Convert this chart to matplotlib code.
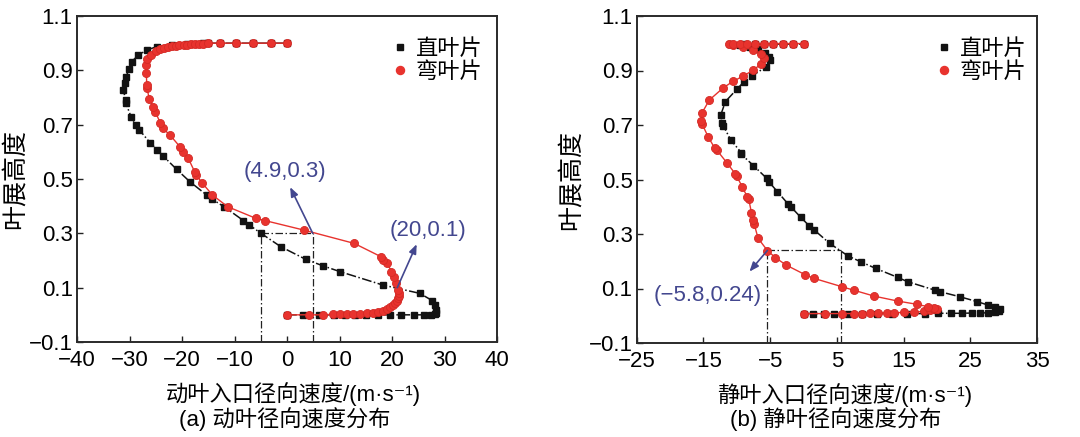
import matplotlib
matplotlib.use('Agg')
import matplotlib.pyplot as plt
from matplotlib.lines import Line2D

plt.rcParams['font.family'] = ['Liberation Sans', 'Noto Sans CJK SC', 'DejaVu Sans']
plt.rcParams['axes.unicode_minus'] = True

# ---------------- data: (a) rotor inlet radial velocity ----------------
a_straight_x = [0, 3, 6, 9, 11, 13, 15, 17.3, 19.7, 21.8, 24.1, 26.0, 27.5, 28.1, 28.4, 28.3,
                28.1, 27.7, 25.3, 18.2, 10.1, 6.9, 3.6, -1.2, -4.95, -7.2, -8.3, -12.0, -14.2,
                -15.3, -18.5, -21.0, -23.6, -24.7, -26.1, -28.1, -28.8, -29.7, -30.7, -30.7,
                -31.2, -30.9, -30.7, -30.1, -29.6, -28.3, -26.7, -24.8, -22.0, -19.0, -16.0,
                -15.0, -12.8, -9.7, -6.4, -3.1, 0]
a_straight_y = [0.0, 0.0, 0.0, 0.0, 0.0, 0.0, 0.0, 0.0, 0.0, 0.0, 0.0, 0.0, 0.0, 0.003, 0.008, 0.018,
                0.036, 0.052, 0.079, 0.110, 0.159, 0.180, 0.204, 0.251, 0.300, 0.331, 0.347, 0.398, 0.425,
                0.441, 0.490, 0.535, 0.585, 0.607, 0.634, 0.680, 0.699, 0.729, 0.779, 0.791,
                0.828, 0.852, 0.874, 0.904, 0.932, 0.956, 0.975, 0.987, 0.994, 0.998, 1.0,
                1.0, 1.0, 1.0, 1.0, 1.0, 1.0]

a_curved_x = [0, 4.1, 6.9, 8.8, 10.0, 11.4, 12.6, 13.9, 15.2, 16.4, 17.4, 18.3, 19.0, 19.6, 20.2,
              20.6, 20.9, 21.1, 21.3, 21.3, 21.2, 20.8, 20.4, 19.9, 19.1, 18.3, 17.9, 12.8, 3.2,
              -4.2, -5.9, -11.3, -14.2, -16.1, -17.3, -17.6, -18.8, -19.9, -20.4, -22.3, -23.7,
              -24.1, -25.1, -25.5, -26.2, -26.7, -26.7, -26.8, -26.8, -26.6, -26.0, -25.0, -24.2,
              -23.5, -22.7, -22.0, -21.2, -20.5, -19.7, -19.0, -18.2, -17.5, -16.7, -16.0, -15.0,
              -12.8, -9.7, -6.4, -3.1, 0]
a_curved_y = [0.0, 0.0, 0.0, 0.002, 0.002, 0.003, 0.003, 0.004, 0.006, 0.008, 0.011, 0.015, 0.021,
              0.028, 0.035, 0.042, 0.051, 0.061, 0.070, 0.079, 0.092, 0.116, 0.138, 0.159, 0.190,
              0.202, 0.214, 0.263, 0.312, 0.347, 0.355, 0.398, 0.441, 0.484, 0.515, 0.527, 0.576,
              0.601, 0.619, 0.662, 0.687, 0.705, 0.748, 0.766, 0.794, 0.835, 0.845, 0.889, 0.920,
              0.940, 0.958, 0.972, 0.978, 0.982, 0.986, 0.988, 0.990, 0.992, 0.994, 0.995, 0.996,
              0.997, 0.998, 0.998, 1.0, 1.0, 1.0, 1.0, 1.0, 1.0]

# ---------------- data: (b) stator inlet radial velocity ----------------
b_straight_x = [0.1, 1.5, 3.0, 4.5, 6.6, 8.7, 11.0, 13.2, 15.5, 18.2, 20.2, 22.1, 23.7, 25.2, 26.5,
                27.7, 28.7, 29.3, 29.4, 28.7, 27.7, 26.0, 23.4, 20.5, 19.7, 15.6, 14.1, 10.8, 8.6,
                6.7, 3.9, 1.6, 0.9, -0.4, -1.9, -2.3, -3.9, -5.2, -5.5, -7.5, -9.3, -9.3, -10.9,
                -12.0, -12.2, -12.4, -11.7, -10.0, -8.9, -7.7, -5.6, -5.0, -5.2, -5.8, -6.8, -8.0,
                -9.5, -11.0, -9.0, -7.3, -5.9, -4.5, -3.0, -1.5, 0.1]
b_straight_y = [0.008, 0.008, 0.008, 0.008, 0.008, 0.008, 0.008, 0.008, 0.008, 0.008, 0.009, 0.009,
                0.009, 0.010, 0.010, 0.011, 0.013, 0.018, 0.023, 0.031, 0.039, 0.052, 0.070, 0.088,
                0.094, 0.125, 0.141, 0.174, 0.198, 0.219, 0.266, 0.315, 0.329, 0.361, 0.400, 0.410,
                0.455, 0.492, 0.504, 0.551, 0.592, 0.598, 0.645, 0.696, 0.709, 0.737, 0.786, 0.831,
                0.859, 0.880, 0.914, 0.938, 0.950, 0.965, 0.978, 0.988, 0.994, 0.996, 0.997, 0.997,
                0.997, 0.997, 0.997, 0.997, 0.997]

b_curved_x = [0.1, 3.2, 5.7, 7.5, 8.7, 10.0, 11.2, 12.5, 13.5, 15.0, 16.5, 18.0, 19.0, 19.6, 20.0,
              19.5, 18.7, 17.0, 14.1, 10.6, 7.5, 5.7, 1.6, 0.3, -2.6, -4.2, -5.4, -6.8, -7.4, -7.5,
              -7.8, -8.2, -8.4, -9.2, -10.0, -10.2, -11.5, -13.0, -13.3, -14.3, -15.2, -15.3,
              -15.2, -14.1, -12.0, -10.5, -9.0, -7.5, -6.3, -5.9, -6.3, -7.5, -9.0, -10.5, -11.2,
              -10.5, -9.5, -8.5, -7.3, -5.9, -4.5, -3.0, -1.5, 0.1]
b_curved_y = [0.008, 0.008, 0.008, 0.008, 0.008, 0.009, 0.010, 0.010, 0.011, 0.012, 0.013, 0.016,
              0.020, 0.024, 0.025, 0.027, 0.033, 0.042, 0.054, 0.072, 0.094, 0.107, 0.137, 0.150,
              0.186, 0.213, 0.239, 0.284, 0.337, 0.351, 0.378, 0.427, 0.435, 0.474, 0.512, 0.520,
              0.562, 0.608, 0.615, 0.657, 0.704, 0.716, 0.745, 0.792, 0.837, 0.861, 0.880, 0.902,
              0.925, 0.945, 0.960, 0.975, 0.985, 0.993, 0.997, 0.998, 0.999, 0.999, 0.999, 0.999,
              0.999, 0.999, 0.999, 0.999]

# annotations / guide lines
a_guide_x = [-5.0, 4.9]
a_guide_y = 0.3
b_guide_x = [-5.4, 5.6]
b_guide_y = 0.24

labels = ['直叶片', '弯叶片']
a_xticks = [-40, -30, -20, -10, 0, 10, 20, 30, 40]
b_xticks = [-25, -15, -5, 5, 15, 25, 35]
yticks = [-0.1, 0.1, 0.3, 0.5, 0.7, 0.9, 1.1]

BLACK = '#121212'
RED = '#e8332e'
NAVY = '#43478f'
FS = 16
LFS = 16

fig = plt.figure(figsize=(10.8, 4.37), dpi=100)
ax1 = fig.add_axes([77 / 1080, 95 / 437, 420 / 1080, 326 / 437])
ax2 = fig.add_axes([636.7 / 1080, 94 / 437, 400.3 / 1080, 327 / 437])


def style(ax, xticks, xlim):
    ax.set_xlim(xlim)
    ax.set_ylim(-0.1, 1.1)
    ax.set_xticks(xticks)
    ax.set_yticks(yticks)
    ax.set_yticklabels([f'{v:.1f}'.replace('-', '\u2212') for v in yticks])
    ax.tick_params(direction='in', length=4.5, width=1, labelsize=FS, top=False, right=False,
                   color='#222222')
    ax.tick_params(axis='x', pad=6)
    ax.tick_params(axis='y', pad=3)
    for s in ax.spines.values():
        s.set_linewidth(1.4)
        s.set_color('#2a2a2a')


def draw(ax, sx, sy, cx, cy):
    ax.plot(sx, sy, color=BLACK, ls='-.', lw=1.1, marker='s', ms=5, mfc=BLACK, mec=BLACK,
            zorder=3)
    ax.plot(cx, cy, color=RED, ls='-', lw=1.0, marker='o', ms=5.8, mfc=RED, mec='#d42a25',
            mew=0.6, zorder=4)


def guides(ax, gx, gy):
    dd = (0, (6, 2, 1.2, 2))
    ax.plot(gx, [gy, gy], color='#222222', lw=0.9, ls=dd, zorder=2)
    for v in gx:
        ax.plot([v, v], [-0.1, gy], color='#222222', lw=0.9, ls=dd, zorder=2)


def legend(ax, x0, y0):
    handles = [Line2D([], [], ls='none', marker='s', ms=5, color=BLACK),
               Line2D([], [], ls='none', marker='o', ms=5.8, color=RED)]
    ax.legend(handles, labels, loc='upper left', bbox_to_anchor=(x0, y0), frameon=False,
              fontsize=LFS, handlelength=0.6, handletextpad=0.4, labelspacing=0.08,
              borderpad=0, borderaxespad=0)


arrow = dict(arrowstyle='-|>,head_length=0.55,head_width=0.22', color=NAVY, lw=1.2,
             shrinkA=0, shrinkB=0)

# ---- panel (a)
style(ax1, a_xticks, (-40, 40))
draw(ax1, a_straight_x, a_straight_y, a_curved_x, a_curved_y)
guides(ax1, a_guide_x, a_guide_y)
legend(ax1, 0.753, 0.93)
ax1.annotate('', xy=(0.6, 0.47), xytext=(a_guide_x[1], a_guide_y), arrowprops=arrow, zorder=6)
ax1.text(-0.4, 0.527, '(4.9,0.3)', color=NAVY, fontsize=LFS, ha='center', va='center')
ax1.annotate('', xy=(24.7, 0.26), xytext=(21.0, 0.10), arrowprops=arrow, zorder=6)
ax1.text(26.9, 0.312, '(20,0.1)', color=NAVY, fontsize=LFS, ha='center', va='center')
ax1.set_ylabel('叶展高度', fontsize=18)
ax1.yaxis.set_label_coords(-0.119, 0.5)

# ---- panel (b)
style(ax2, b_xticks, (-25, 35))
draw(ax2, b_straight_x, b_straight_y, b_curved_x, b_curved_y)
guides(ax2, b_guide_x, b_guide_y)
legend(ax2, 0.752, 0.93)
ax2.annotate('', xy=(-8.1, 0.162), xytext=(b_guide_x[0], b_guide_y), arrowprops=arrow, zorder=6)
ax2.text(-14.4, 0.076, '(\u22125.8,0.24)', color=NAVY, fontsize=LFS, ha='center', va='center')
ax2.set_ylabel('叶展高度', fontsize=18)
ax2.yaxis.set_label_coords(-0.134, 0.5)

# x labels and captions
fig.text(293.5 / 1080, 1 - 394 / 437, '动叶入口径向速度/(m·s\u207b\u00b9)', fontsize=LFS,
         ha='center', va='center')
fig.text(285 / 1080, 1 - 419 / 437, '(a) 动叶径向速度分布', fontsize=LFS,
         ha='center', va='center')
fig.text(845 / 1080, 1 - 395 / 437, '静叶入口径向速度/(m·s\u207b\u00b9)', fontsize=LFS,
         ha='center', va='center')
fig.text(835.5 / 1080, 1 - 419 / 437, '(b) 静叶径向速度分布', fontsize=LFS,
         ha='center', va='center')

fig.savefig('out.png', dpi=100)
